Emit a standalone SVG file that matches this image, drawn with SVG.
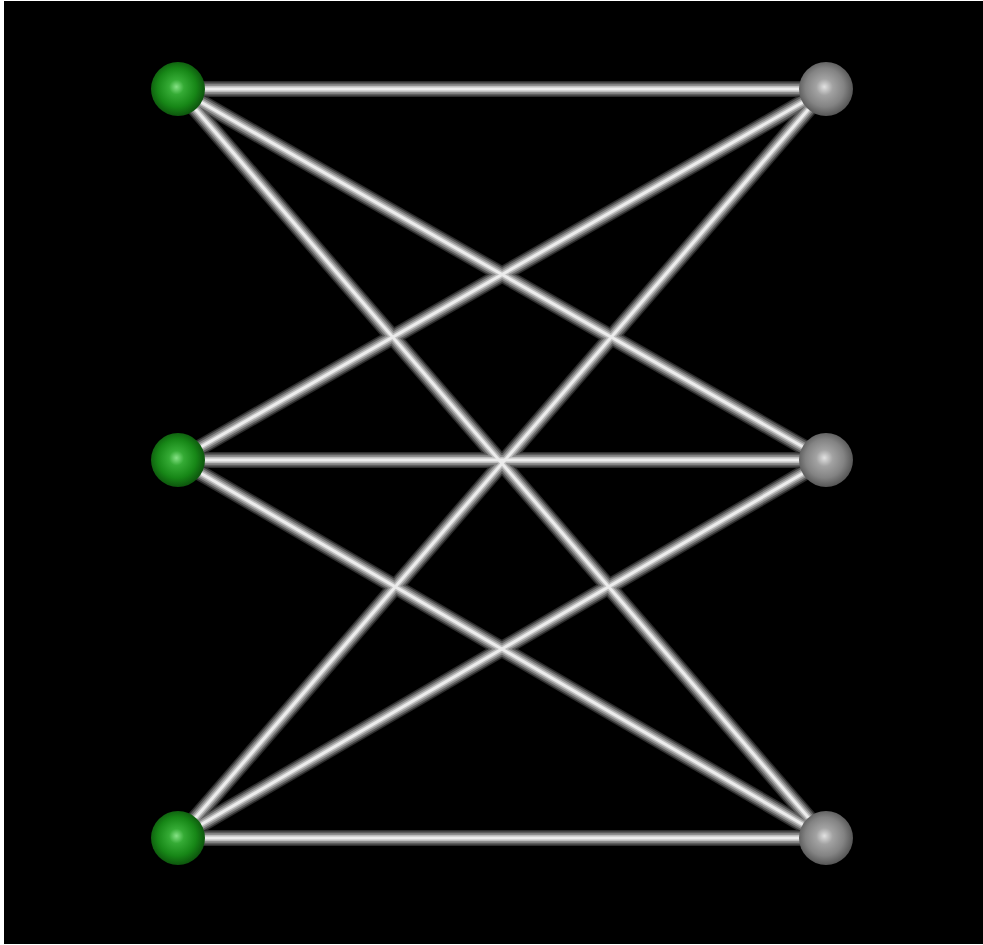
<svg xmlns="http://www.w3.org/2000/svg" xmlns:xlink="http://www.w3.org/1999/xlink" width="983" height="945" viewBox="0 0 983 945">
<style>
.l1{stroke:#2e2e2e;stroke-width:16;fill:none}
.l2{stroke:#5e5e5e;stroke-width:13;fill:none}
.l3{stroke:#8e8e8e;stroke-width:9.5;fill:none}
.l4{stroke:#bdbdbd;stroke-width:6;fill:none}
.l5{stroke:#ececec;stroke-width:3;fill:none}
.green{fill:url(#gGreen)}
.gray{fill:url(#gGray)}
</style>
<defs>
<radialGradient id="gGreen" cx="0.48" cy="0.48" r="0.55" fx="0.47" fy="0.46">
<stop offset="0" stop-color="#86e386"/>
<stop offset="0.25" stop-color="#35ab35"/>
<stop offset="0.65" stop-color="#178717"/>
<stop offset="1" stop-color="#0b4d0b"/>
</radialGradient>
<radialGradient id="gGray" cx="0.48" cy="0.48" r="0.55" fx="0.47" fy="0.46">
<stop offset="0" stop-color="#e2e2e2"/>
<stop offset="0.28" stop-color="#a2a2a2"/>
<stop offset="0.65" stop-color="#838383"/>
<stop offset="1" stop-color="#4e4e4e"/>
</radialGradient>
<g id="edgeset">
<line x1="178" y1="89" x2="826" y2="89"/>
<line x1="178" y1="89" x2="826" y2="460"/>
<line x1="178" y1="89" x2="826" y2="838"/>
<line x1="178" y1="460" x2="826" y2="89"/>
<line x1="178" y1="460" x2="826" y2="460"/>
<line x1="178" y1="460" x2="826" y2="838"/>
<line x1="178" y1="838" x2="826" y2="89"/>
<line x1="178" y1="838" x2="826" y2="460"/>
<line x1="178" y1="838" x2="826" y2="838"/>
</g>
</defs>
<rect x="0" y="0" width="983" height="945" fill="#fff"/>
<rect x="4" y="1" width="979" height="943" fill="#000"/>
<g id="connectors">
<use xlink:href="#edgeset" class="l1"/>
<use xlink:href="#edgeset" class="l2"/>
<use xlink:href="#edgeset" class="l3"/>
<use xlink:href="#edgeset" class="l4"/>
<use xlink:href="#edgeset" class="l5"/>
</g>
<g id="nodeL1"><circle class="green" cx="178" cy="89" r="27"/></g>
<g id="nodeL2"><circle class="green" cx="178" cy="460" r="27"/></g>
<g id="nodeL3"><circle class="green" cx="178" cy="838" r="27"/></g>
<g id="nodeR1"><circle class="gray" cx="826" cy="89" r="27"/></g>
<g id="nodeR2"><circle class="gray" cx="826" cy="460" r="27"/></g>
<g id="nodeR3"><circle class="gray" cx="826" cy="838" r="27"/></g>
</svg>
